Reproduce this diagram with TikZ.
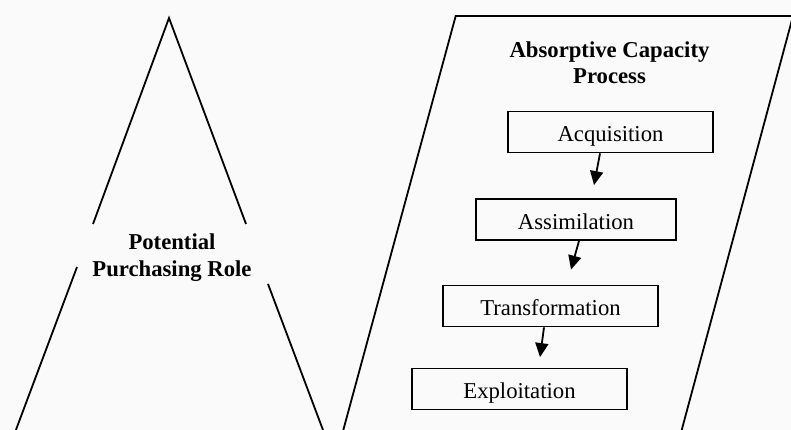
\documentclass[tikz,border=0pt]{standalone}
\usepackage{fontspec}
\setmainfont{Liberation Serif}
\usetikzlibrary{arrows.meta,calc}
\definecolor{paper}{RGB}{250,250,250}
\newcommand{\diagfont}{\fontsize{22.7}{26.5}\selectfont}

\begin{document}
\begin{tikzpicture}[x=1pt, y=1pt,
    edge/.style={line width=1.8pt},
    box/.style={rectangle, draw, line width=1.8pt, minimum height=41pt, inner sep=0pt, text height=20pt, text depth=0pt, font=\diagfont},
    lbl/.style={align=center, inner sep=0pt, font=\diagfont\bfseries},
    arr/.style={-{Triangle[length=14pt, width=13pt]}, line width=1.8pt}
]
    % Page
    \fill[paper] (0,0) rectangle (791,430);
    \useasboundingbox (0,0) rectangle (791,430);
    \clip (0,0) rectangle (791,430);

    % Role triangle, open round its label
    \draw[edge] (93,206) -- (169,412) -- (246,206);
    \draw[edge] (77,163) -- (15.9,0);
    \draw[edge] (268,146) -- (323,0);
    \node[lbl] (role) at (172,172.5) {Potential\\Purchasing Role};

    % Process parallelogram
    \draw[edge] (343.3,0) -- (455.7,414) -- (793,414) -- (681.7,0);
    \node[lbl] (title) at (609.5,367.5) {Absorptive Capacity\\Process};

    % Process steps
    \foreach \n/\x/\y/\w/\t in {acq/610.5/298/205/Acquisition, asm/576/210.5/200/Assimilation, trf/550.5/124/215/Transformation, exp/519.5/41/215/Exploitation} {
        \node[box, minimum width=\w pt] (\n) at (\x,\y) {\t};
    }

    % Arrows between steps
    \draw[arr] ($(acq.south)+(-10.5,0)$) -- ($(asm.north)+(18,13)$);
    \draw[arr] ($(asm.south)+(3,0)$) -- ($(trf.north)+(20.5,15)$);
    \draw[arr] ($(trf.south)+(-6.5,0)$) -- ($(exp.north)+(20.5,10.5)$);
\end{tikzpicture}
\end{document}
